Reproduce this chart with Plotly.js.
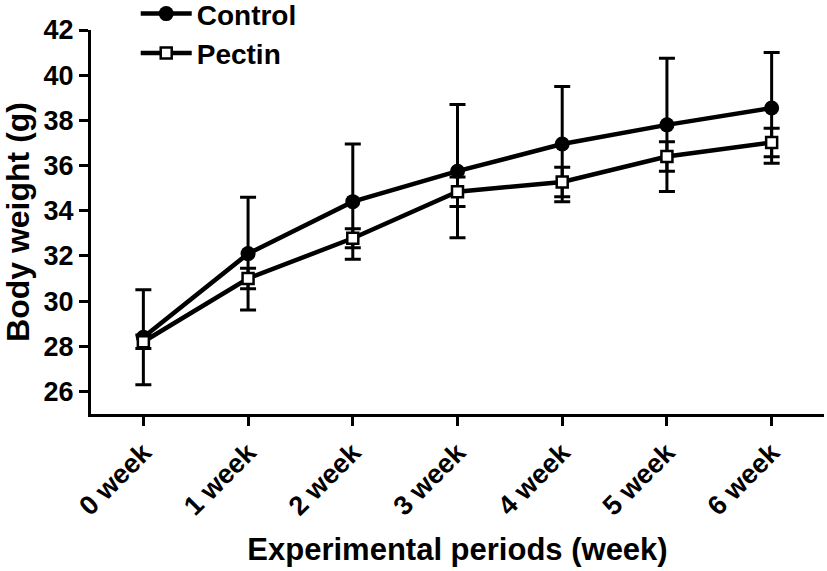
<!DOCTYPE html>
<html>
<head>
<meta charset="utf-8">
<script src="https://cdn.plot.ly/plotly-3.0.1.min.js"></script>
<style>html,body{margin:0;padding:0;background:#fff;}#chart{width:827px;height:571px;}</style>
</head>
<body>
<div id="chart"></div>
<script>
var weeks = ["0 week", "1 week", "2 week", "3 week", "4 week", "5 week", "6 week"];
var controlMean = [28.4, 32.1, 34.4, 35.75, 36.95, 37.8, 38.55];
var controlErr  = [2.1, 2.5, 2.55, 2.95, 2.55, 2.95, 2.45];
var pectinMean  = [28.2, 31.0, 32.78, 34.84, 35.27, 36.4, 37.02];
var pectinErr   = [0.3, 0.45, 0.42, 0.65, 0.65, 0.65, 0.63];
var yTicks = [26, 28, 30, 32, 34, 36, 38, 40, 42];

var fontFam = "Liberation Sans, Arial, sans-serif";
var xIdx = weeks.map(function(_, i){ return i; });

var control = {
  x: xIdx, y: controlMean, name: "Control", type: "scatter", mode: "lines+markers",
  line: {color: "#000", width: 4.5},
  marker: {symbol: "circle", size: 15, color: "#000"},
  error_y: {type: "data", array: controlErr, visible: true, color: "#000", thickness: 3, width: 8}
};
var pectin = {
  x: xIdx, y: pectinMean, name: "Pectin", type: "scatter", mode: "lines+markers",
  line: {color: "#000", width: 4.5},
  marker: {symbol: "square", size: 11, color: "#fff", line: {color: "#000", width: 2.5}},
  error_y: {type: "data", array: pectinErr, visible: true, color: "#000", thickness: 3, width: 8}
};

var layout = {
  width: 827, height: 571,
  margin: {l: 91, r: 3, t: 30, b: 157, autoexpand: false},
  paper_bgcolor: "#fff", plot_bgcolor: "#fff",
  font: {family: fontFam, color: "#000", size: 26, weight: "bold"},
  showlegend: true,
  legend: {x: 0.061, y: 1.107, xanchor: "left", yanchor: "top", bgcolor: "rgba(0,0,0,0)",
           font: {size: 28, weight: "bold", family: fontFam}, tracegroupgap: 0, itemwidth: 51},
  xaxis: {
    range: [-0.5, 6.5], tickmode: "array", tickvals: xIdx, ticktext: weeks,
    tickangle: -45, showline: true, linecolor: "#000", linewidth: 3,
    ticks: "outside", ticklen: 9, tickwidth: 3, tickcolor: "#000",
    showgrid: false, zeroline: false, automargin: false,
    tickfont: {size: 27, weight: "bold", family: fontFam},
    title: {text: "Experimental periods (week)", font: {size: 31, weight: "bold", family: fontFam}, standoff: 18}
  },
  yaxis: {
    range: [25, 42], tickmode: "array", tickvals: yTicks,
    showline: true, linecolor: "#000", linewidth: 3,
    ticks: "outside", ticklen: 9, tickwidth: 3, tickcolor: "#000",
    showgrid: false, zeroline: false, automargin: false,
    tickfont: {size: 27, weight: "bold", family: fontFam},
    title: {text: "Body weight (g)", font: {size: 32, weight: "bold", family: fontFam}, standoff: 6}
  }
};

Plotly.newPlot("chart", [control, pectin], layout, {displayModeBar: false, staticPlot: true});
</script>
</body>
</html>
